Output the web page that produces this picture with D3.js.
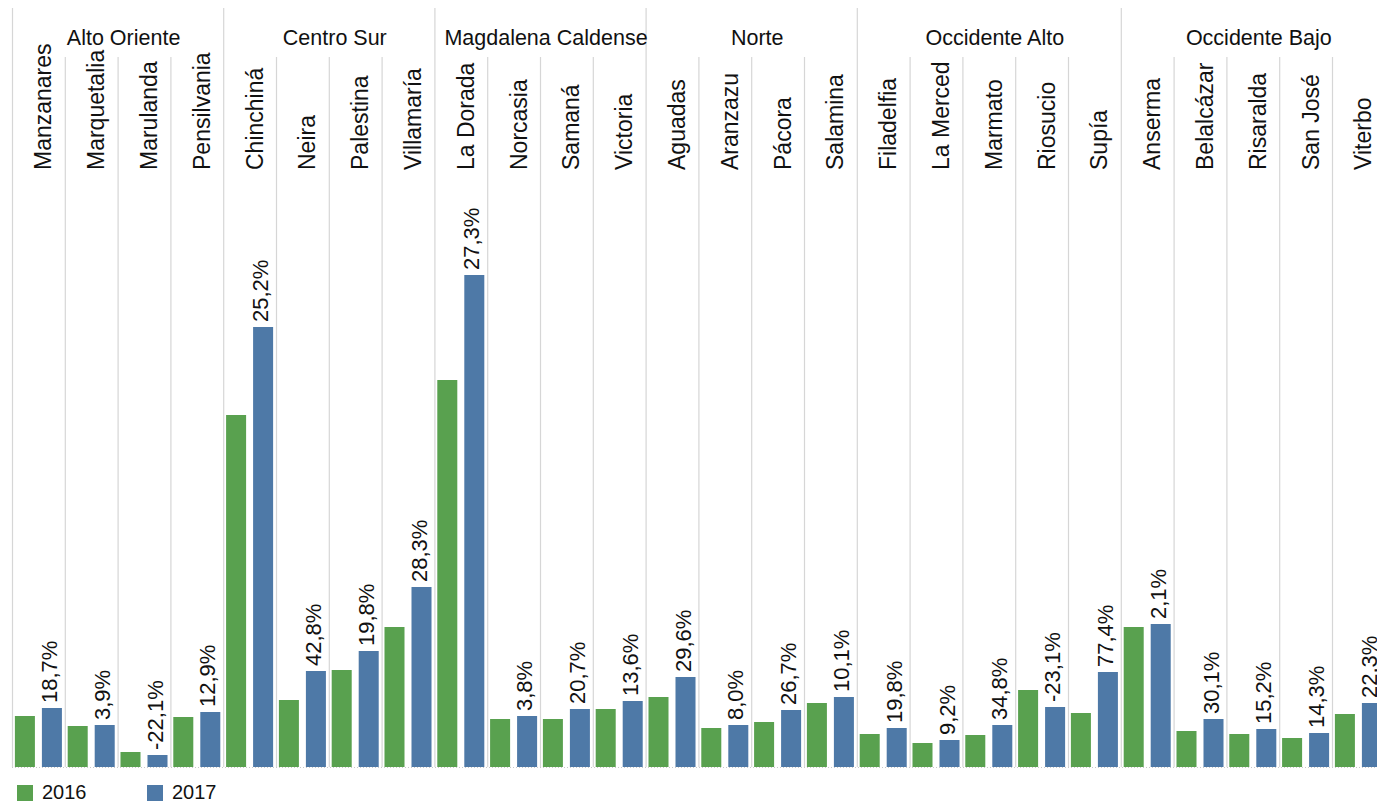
<!DOCTYPE html>
<html>
<head>
<meta charset="utf-8">
<script src="https://cdn.jsdelivr.net/npm/d3@7"></script>
<style>
    html, body { margin: 0; padding: 0; background: #fff; overflow: hidden; }
    svg { display: block; font-family: "Liberation Sans", Arial, sans-serif; }
</style>
</head>
<body>
<svg id="chart" width="1377" height="801"></svg>
<script>
// regions and the municipalities inside each one
var regions = ['Alto Oriente', 'Centro Sur', 'Magdalena Caldense', 'Norte', 'Occidente Alto', 'Occidente Bajo'];
var region_of = [
    'Alto Oriente', 'Alto Oriente', 'Alto Oriente', 'Alto Oriente',
    'Centro Sur', 'Centro Sur', 'Centro Sur', 'Centro Sur',
    'Magdalena Caldense', 'Magdalena Caldense', 'Magdalena Caldense', 'Magdalena Caldense',
    'Norte', 'Norte', 'Norte', 'Norte',
    'Occidente Alto', 'Occidente Alto', 'Occidente Alto', 'Occidente Alto', 'Occidente Alto',
    'Occidente Bajo', 'Occidente Bajo', 'Occidente Bajo', 'Occidente Bajo', 'Occidente Bajo'
];
var municipios = [
    'Manzanares', 'Marquetalia', 'Marulanda', 'Pensilvania',
    'Chinchiná', 'Neira', 'Palestina', 'Villamaría',
    'La Dorada', 'Norcasia', 'Samaná', 'Victoria',
    'Aguadas', 'Aranzazu', 'Pácora', 'Salamina',
    'Filadelfia', 'La Merced', 'Marmato', 'Riosucio', 'Supía',
    'Anserma', 'Belalcázar', 'Risaralda', 'San José', 'Viterbo'
];
var years = ['2016', '2017'];

// values (no axis shown, relative units)
var values_2016 = [
    5.1, 4.1, 1.5, 5.0,
    35.2, 6.7, 9.7, 14.0,
    38.7, 4.8, 4.8, 5.8,
    7.0, 3.9, 4.5, 6.4,
    3.3, 2.4, 3.2, 7.7, 5.4,
    14.0, 3.6, 3.3, 2.9, 5.3
];
var values_2017 = [
    5.9, 4.2, 1.2, 5.5,
    44.0, 9.6, 11.6, 18.0,
    49.2, 5.1, 5.8, 6.6,
    9.0, 4.2, 5.7, 7.0,
    3.9, 2.7, 4.2, 6.0, 9.5,
    14.3, 4.8, 3.8, 3.4, 6.4
];
// percent change labels
var variacion = [
    18.7, 3.9, -22.1, 12.9,
    25.2, 42.8, 19.8, 28.3,
    27.3, 3.8, 20.7, 13.6,
    29.6, 8.0, 26.7, 10.1,
    19.8, 9.2, 34.8, -23.1, 77.4,
    2.1, 30.1, 15.2, 14.3, 22.3
];

var colors = {'2016': '#59a14f', '2017': '#4e79a7'};
var grid_color = '#d6d6d6';

var svg = d3.select('#chart');

var left = 12, col_w = 52.8;
var base_y = 767, top_y = 267;

var x = d3.scaleBand()
    .domain(municipios)
    .range([left, left + municipios.length * col_w]);

var x_inner = d3.scaleBand()
    .domain(years)
    .range([0, x.bandwidth()])
    .paddingInner(0.259)
    .paddingOuter(0.107);

var y = d3.scaleLinear()
    .domain([0, 50])
    .range([base_y, top_y]);

var locale = d3.formatLocale({decimal: ',', thousands: '.', grouping: [3], currency: ['$', ''], minus: '-'});
var fmt = locale.format('.1f');

var data = municipios.map(function (m, i) {
    return {
        name: m,
        region: region_of[i],
        first: i === 0 || region_of[i - 1] !== region_of[i],
        v2016: values_2016[i],
        v2017: values_2017[i],
        pct: variacion[i]
    };
});

// vertical separators
var grid = svg.append('g');
data.forEach(function (d) {
    grid.append('line')
        .attr('x1', x(d.name) + 0.5)
        .attr('x2', x(d.name) + 0.5)
        .attr('y1', d.first ? 8 : 57)
        .attr('y2', base_y)
        .style('stroke', grid_color)
        .style('stroke-width', 1.2);
});
grid.append('line')
    .attr('x1', x.range()[1] + 0.5)
    .attr('x2', x.range()[1] + 0.5)
    .attr('y1', 8)
    .attr('y2', base_y)
    .style('stroke', grid_color);

// baseline
svg.append('line')
    .attr('x1', left)
    .attr('x2', x.range()[1])
    .attr('y1', base_y + 0.5)
    .attr('y2', base_y + 0.5)
    .style('stroke', '#c8c8c8')
    .style('stroke-dasharray', '1,2');

// region headers
regions.forEach(function (r) {
    var members = data.filter(function (d) { return d.region === r; });
    var x0 = x(members[0].name);
    var x1 = x(members[members.length - 1].name) + x.bandwidth();
    svg.append('text')
        .attr('x', (x0 + x1) / 2 + 6)
        .attr('y', 45)
        .attr('text-anchor', 'middle')
        .style('font-size', '21.5px')
        .style('fill', '#111')
        .text(r);
});

// municipality labels
svg.selectAll('text.muni')
    .data(data)
    .enter()
    .append('text')
    .attr('class', 'muni')
    .attr('transform', function (d) {
        return 'translate(' + (x(d.name) + x.bandwidth() / 2 + 13) + ',170) rotate(-90)';
    })
    .attr('text-anchor', 'start')
    .style('font-size', '23px')
    .style('fill', '#111')
    .text(function (d) { return d.name; });

// bars
var groups = svg.selectAll('g.muni')
    .data(data)
    .enter()
    .append('g')
    .attr('class', 'muni')
    .attr('transform', function (d) { return 'translate(' + x(d.name) + ',0)'; });

years.forEach(function (yr) {
    groups.append('rect')
        .attr('x', x_inner(yr))
        .attr('width', x_inner.bandwidth())
        .attr('y', function (d) { return y(d['v' + yr]); })
        .attr('height', function (d) { return base_y - y(d['v' + yr]); })
        .style('fill', colors[yr]);
});

// percent change labels above the 2017 bar
groups.append('text')
    .attr('transform', function (d) {
        var cx = x_inner('2017') + x_inner.bandwidth() / 2 + 5;
        return 'translate(' + cx + ',' + (y(d.v2017) - 5) + ') rotate(-90)';
    })
    .attr('text-anchor', 'start')
    .style('font-size', '22px')
    .style('fill', '#111')
    .text(function (d) { return fmt(d.pct) + '%'; });

// legend
var legend = svg.append('g');
years.forEach(function (yr, i) {
    var lx = 17 + i * 130;
    legend.append('rect')
        .attr('x', lx)
        .attr('y', 785)
        .attr('width', 16)
        .attr('height', 16)
        .style('fill', colors[yr]);
    legend.append('text')
        .attr('x', lx + 25)
        .attr('y', 799)
        .style('font-size', '20px')
        .style('fill', '#111')
        .text(yr);
});
</script>
</body>
</html>
